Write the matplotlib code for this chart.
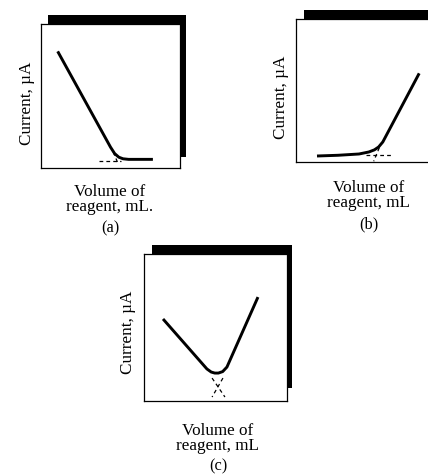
import matplotlib
matplotlib.use("Agg")
import matplotlib.pyplot as plt
from matplotlib.patches import Rectangle

plt.rcParams['font.family'] = ['Liberation Serif', 'DejaVu Serif']

# ---- data (arbitrary units, 0..10 on both axes) ----
a_x = [1.2, 4.6, 5.0, 5.3, 5.6, 5.9, 6.3, 8.05]
a_y = [8.1, 2.15, 1.45, 1.0, 0.75, 0.64, 0.6, 0.6]
a_dash_h_x = [4.2, 5.75]
a_dash_h_y = [0.5, 0.5]
a_dash_v_x = [5.2, 5.55]
a_dash_v_y = [1.1, 0.3]

b_x = [1.5, 3.0, 4.5, 5.2, 5.6, 5.9, 6.2, 8.8]
b_y = [0.42, 0.47, 0.56, 0.7, 0.85, 1.05, 1.4, 6.2]
b_dash_h_x = [5.0, 6.9]
b_dash_h_y = [0.49, 0.49]
b_dash_v_x = [5.95, 5.55]
b_dash_v_y = [1.0, 0.05]

c_x = [1.33, 4.4, 4.7, 4.95, 5.2, 5.5, 5.8, 7.97]
c_y = [5.58, 2.18, 1.97, 1.9, 1.9, 2.0, 2.31, 7.07]
c_dash1_x = [4.76, 5.66]
c_dash1_y = [1.56, 0.27]
c_dash2_x = [5.52, 4.76]
c_dash2_y = [1.56, 0.27]

ylabel = "Current, \u00b5A"
xlabels = ["Volume of\nreagent, mL.", "Volume of\nreagent, mL", "Volume of\nreagent, mL"]
panel_tags = ["(a)", "(b)", "(c)"]

W, H = 428, 475
fig = plt.figure(figsize=(W / 100, H / 100), dpi=100)
fig.patch.set_facecolor('white')


def make_ax(l, t, r, b):
    ax = fig.add_axes([l / W, 1 - b / H, (r - l) / W, (b - t) / H])
    ax.set_xlim(0, 10)
    ax.set_ylim(0, 10)
    ax.set_xticks([])
    ax.set_yticks([])
    for s in ax.spines.values():
        s.set_linewidth(0.9)
        s.set_color('black')
    return ax


def shadow(ax, top_x0, top_x1, top_h, right_w, right_y0, right=True):
    ax.add_patch(Rectangle((top_x0, 1.0), top_x1 - top_x0, top_h,
                           transform=ax.transAxes, clip_on=False,
                           facecolor='black', edgecolor='none', zorder=0))
    if right:
        ax.add_patch(Rectangle((1.0, right_y0), right_w, 1.0 + top_h - right_y0,
                               transform=ax.transAxes, clip_on=False,
                               facecolor='black', edgecolor='none', zorder=0))


def labels(ax, ylab_pos, xc, y2, yt, i):
    fs = 12.3
    ax.text(*ylab_pos, ylabel, transform=ax.transAxes, rotation=90,
            ha='center', va='center', fontsize=fs)
    ax.text(xc, y2, xlabels[i], transform=ax.transAxes, ha='center',
            va='baseline', fontsize=fs, linespacing=0.9, multialignment='center')
    ax.text(xc, yt, panel_tags[i], transform=ax.transAxes, ha='center',
            va='center', fontsize=fs - 0.5)


lw_curve = 2.1
lw_dash = 0.9
dash_style = (0, (3, 2.5))

# (a)
axa = make_ax(41, 24, 180, 168)
shadow(axa, 0.05, 1.043, 0.0625, 0.043, 0.076)
axa.plot(a_x, a_y, color='black', lw=lw_curve, solid_capstyle='butt')
axa.plot(a_dash_h_x, a_dash_h_y, color='black', lw=lw_dash, ls=dash_style)
axa.plot(a_dash_v_x, a_dash_v_y, color='black', lw=lw_dash, ls=dash_style)
labels(axa, (-0.10, 0.45), 0.496, -0.299, -0.417, 0)

# (b)
axb = make_ax(296, 19, 436, 162)
shadow(axb, 0.057, 1.2, 0.06, 0.0, 0.0, right=False)
axb.plot(b_x, b_y, color='black', lw=lw_curve, solid_capstyle='butt')
axb.plot(b_dash_h_x, b_dash_h_y, color='black', lw=lw_dash, ls=dash_style)
axb.plot(b_dash_v_x, b_dash_v_y, color='black', lw=lw_dash, ls=dash_style)
labels(axb, (-0.107, 0.455), 0.52, -0.315, -0.434, 1)

# (c)
axc = make_ax(144, 254, 287, 401)
shadow(axc, 0.056, 1.035, 0.061, 0.035, 0.088)
axc.plot(c_x, c_y, color='black', lw=lw_curve, solid_capstyle='butt')
axc.plot(c_dash1_x, c_dash1_y, color='black', lw=lw_dash, ls=dash_style)
axc.plot(c_dash2_x, c_dash2_y, color='black', lw=lw_dash, ls=dash_style)
labels(axc, (-0.112, 0.469), 0.517, -0.333, -0.442, 2)

fig.savefig("out.png", dpi=100, facecolor='white')
